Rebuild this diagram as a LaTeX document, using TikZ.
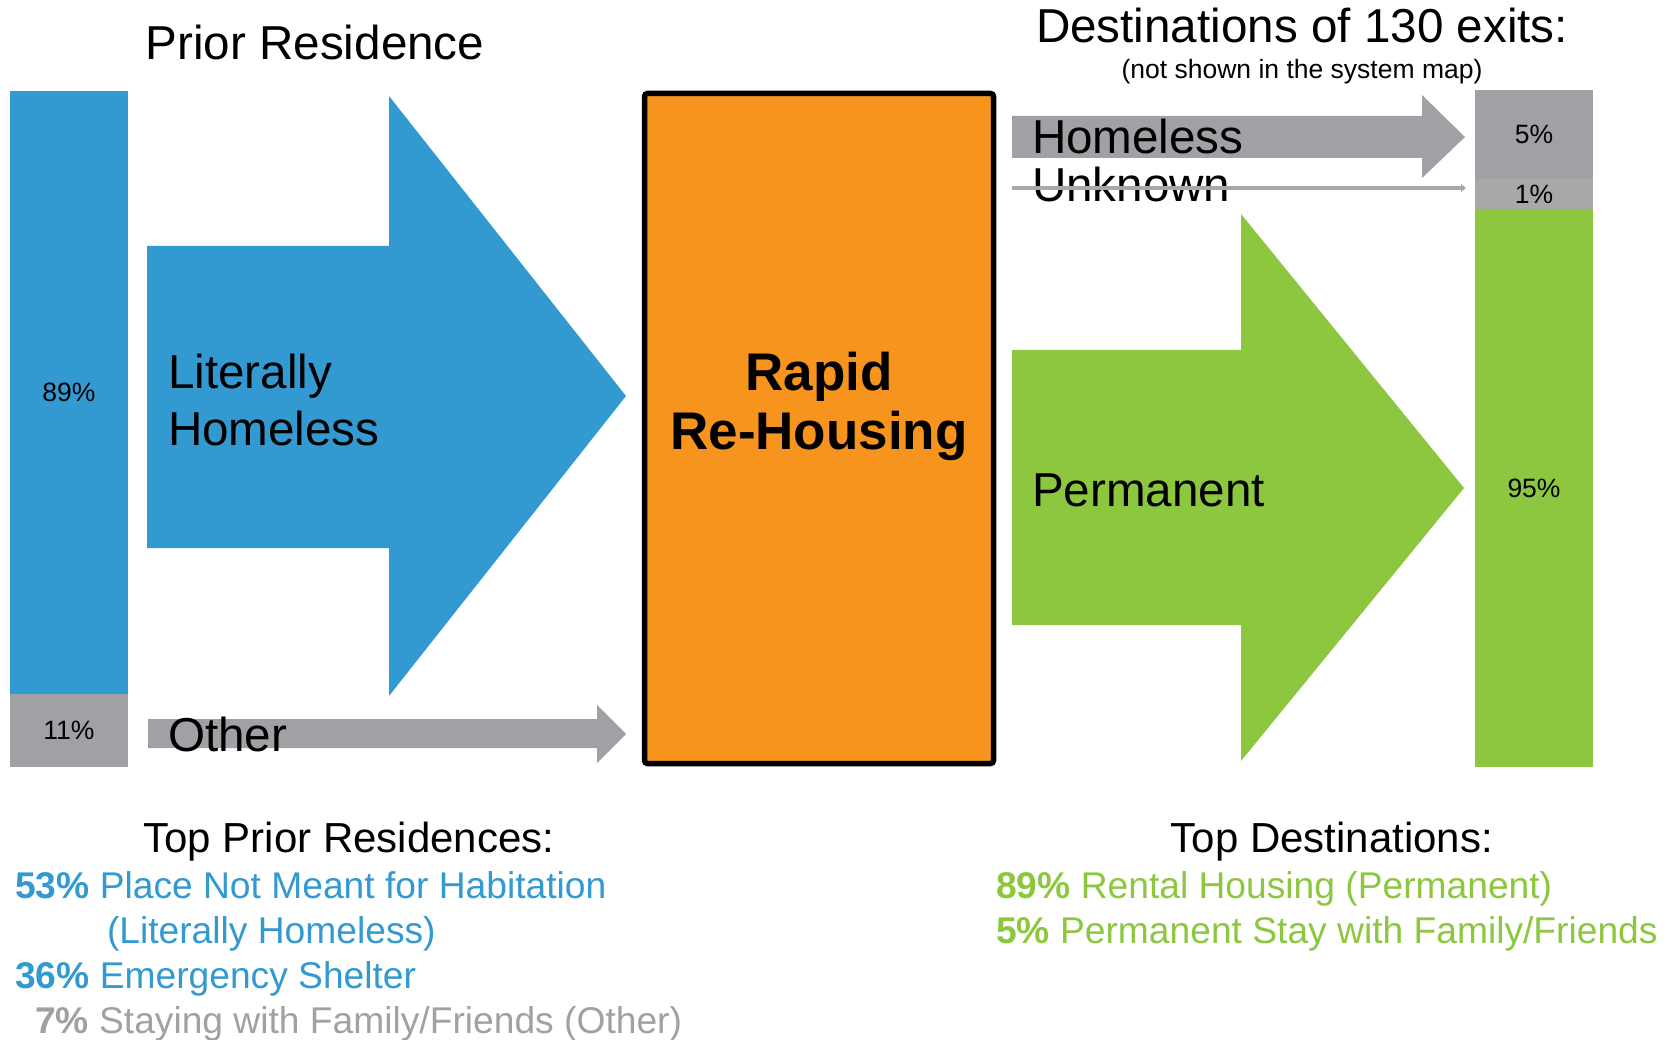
\documentclass[tikz,border=0pt]{standalone}
\usepackage{fontspec}
\setmainfont{Liberation Sans}
\usepackage{xcolor}
\definecolor{priorblue}{RGB}{51,153,209}
\definecolor{rrhorange}{RGB}{247,148,29}
\definecolor{permgreen}{RGB}{141,198,63}
\definecolor{othergray}{RGB}{160,161,165}
\definecolor{unkgray}{RGB}{168,168,169}
\usepackage{tikz}
\usetikzlibrary{arrows.meta,positioning,calc}

\newcommand{\fHead}{\fontsize{47.6}{56}\selectfont}
\newcommand{\fSub}{\fontsize{26.5}{30}\selectfont}
\newcommand{\fBox}{\fontsize{53}{59}\selectfont\bfseries}
\newcommand{\fTop}{\fontsize{42}{48}\selectfont}
\newcommand{\fList}{\fontsize{37.2}{44}\selectfont}

\begin{document}
\begin{tikzpicture}[x=1pt, y=-1pt, inner sep=0pt, outer sep=0pt,
    pctbar/.style={rectangle, minimum width=118, font=\fSub},
    flowlbl/.style={anchor=base west, font=\fHead},
    listline/.style={anchor=base west, font=\fList}]
    \useasboundingbox (0,0) rectangle (1675,1040);

    % Headings
    \node[anchor=base, font=\fHead] (prtitle) at (315,60) {Prior Residence};
    \node[anchor=base, font=\fHead] (dsttitle) at (1302,43) {Destinations of 130 exits:};
    \node[anchor=base, font=\fSub] (dstnote) at (1302,79) {(not shown in the system map)};

    % Prior residence bar
    \node[pctbar, fill=priorblue, minimum height=603] (lhbar) at (69,392.5) {89\%};
    \node[pctbar, fill=othergray, minimum height=73, below=0pt of lhbar] (otbar) {11\%};

    % Inflow arrows
    \fill[priorblue] (147,246) -- (389,246) -- (389,96) -- (626,396) -- (389,696) -- (389,548) -- (147,548) -- cycle;
    \fill[othergray] (148,719) -- (597,719) -- (597,705) -- (626,734) -- (597,763) -- (597,748) -- (148,748) -- cycle;
    \node[flowlbl] (litlbl) at (168,388) {Literally};
    \node[flowlbl] (homlbl) at (168,445) {Homeless};
    \node[flowlbl] (othlbl) at (168,751) {Other};

    % Program box
    \node[rectangle, draw=black, line width=5.5, fill=rrhorange, rounded corners=3,
          minimum width=349, minimum height=670] (rrh) at (819,428.5) {};
    \node[anchor=base, font=\fBox] (rrhtop) at (819,390) {Rapid};
    \node[anchor=base, font=\fBox] (rrhbot) at (819,449) {Re-Housing};

    % Exit arrows
    \fill[othergray] (1012,116) -- (1422,116) -- (1422,95) -- (1465,137) -- (1422,178) -- (1422,158) -- (1012,158) -- cycle;
    \fill[permgreen] (1012,350) -- (1241,350) -- (1241,214) -- (1464,488) -- (1241,761) -- (1241,625) -- (1012,625) -- cycle;
    \node[flowlbl] (hmlbl) at (1032,154) {Homeless};
    \node[flowlbl] (unklbl) at (1032,202) {Unknown};
    \node[flowlbl] (pmlbl) at (1032,506) {Permanent};
    \coordinate (unkfrom) at (1012,188);
    \coordinate (unkto) at (1466,188);
    \draw[unkgray, line width=4, -{Triangle[length=5pt,width=8pt]}] (unkfrom) -- (unkto);

    % Destination bar
    \node[pctbar, fill=othergray, minimum height=89] (hlbar) at (1534,134.5) {5\%};
    \node[pctbar, fill=unkgray, minimum height=30, below=0pt of hlbar] (unbar) {1\%};
    \node[pctbar, fill=permgreen, minimum height=558, below=0pt of unbar] (pmbar) {95\%};

    % Top prior residences
    \node[anchor=base, font=\fTop] (toppr) at (349,852) {Top Prior Residences:};
    \node[listline, text=priorblue] (pr1) at (15,898) {\textbf{53\%} Place Not Meant for Habitation};
    \node[listline, text=priorblue] (pr1b) at (107,943) {(Literally Homeless)};
    \node[listline, text=priorblue] (pr2) at (15,988) {\textbf{36\%} Emergency Shelter};
    \node[listline, text=othergray] (pr3) at (35,1033) {\textbf{7\%} Staying with Family/Friends (Other)};

    % Top destinations
    \node[anchor=base, font=\fTop] (topds) at (1332,852) {Top Destinations:};
    \node[listline, text=permgreen] (ds1) at (996,898) {\textbf{89\%} Rental Housing (Permanent)};
    \node[listline, text=permgreen] (ds2) at (996,943) {\textbf{5\%} Permanent Stay with Family/Friends};
\end{tikzpicture}
\end{document}
